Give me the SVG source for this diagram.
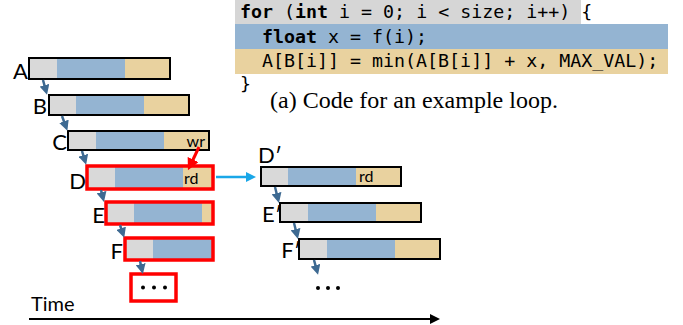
<svg xmlns="http://www.w3.org/2000/svg" width="683" height="325" viewBox="0 0 683 325">
<style>
.g{fill:#d9d9d9}.b{fill:#94b4d2}.t{fill:#e9d29f}
.ol{fill:none;stroke:#000;stroke-width:2}
.rb{fill:none;stroke:#ff0000;stroke-width:3.5}
.lbl{font-family:Lato,"Open Sans",sans-serif;font-size:22px;fill:#000}
.sm{font-family:Lato,"Open Sans",sans-serif;font-size:16px;fill:#000}
.code{font-family:"DejaVu Sans Mono","Liberation Mono",monospace;font-size:18.3px;fill:#000}
.cap{font-family:"Liberation Serif","Times New Roman",serif;font-size:24px;fill:#000}
.kw{font-weight:bold}
.dep{stroke:#3e6a92;stroke-width:2.5;fill:none;marker-end:url(#ah)}
</style>
<defs>
<marker id="ah" viewBox="0 0 10 10" refX="6" refY="5" markerWidth="4" markerHeight="4" orient="auto"><path d="M0,0 L10,5 L0,10 z" fill="#3e6a92"/></marker>
<marker id="ahr" viewBox="0 0 10 10" refX="6" refY="5" markerWidth="4" markerHeight="4" orient="auto"><path d="M0,0 L10,5 L0,10 z" fill="#ff0000"/></marker>
<marker id="ahc" viewBox="0 0 10 10" refX="6" refY="5" markerWidth="4" markerHeight="4" orient="auto"><path d="M0,0 L10,5 L0,10 z" fill="#1aa7e8"/></marker>
<marker id="ahk" viewBox="0 0 10 10" refX="8" refY="5" markerWidth="6" markerHeight="5" orient="auto"><path d="M0,0 L10,5 L0,10 z" fill="#000"/></marker>
</defs>

<g id="code">
<rect x="235" y="0" width="346" height="24" fill="#d6d6d6"/>
<rect x="235" y="24" width="433" height="25" class="b"/>
<rect x="235" y="49" width="433" height="25" class="t"/>
<text class="code" x="240" y="18" xml:space="preserve"><tspan class="kw">for</tspan> (<tspan class="kw">int</tspan> i = 0; i &lt; size; i++) {</text>
<text class="code" x="240" y="43" xml:space="preserve">  <tspan class="kw">float</tspan> x = f(i);</text>
<text class="code" x="240" y="67" xml:space="preserve">  A[B[i]] = min(A[B[i]] + x, MAX_VAL);</text>
<text class="code" x="240" y="90">}</text>
<text class="cap" x="270" y="108">(a) Code for an example loop.</text>
</g>

<g id="A">
<rect x="29" y="58" width="28" height="21" class="g"/><rect x="57" y="58" width="68" height="21" class="b"/><rect x="125" y="58" width="45" height="21" class="t"/>
<rect x="29" y="58" width="141" height="21" class="ol"/>
<text class="lbl" x="28" y="79" text-anchor="end">A</text>
</g>
<g id="B">
<rect x="49" y="95" width="27" height="20" class="g"/><rect x="76" y="95" width="68" height="20" class="b"/><rect x="144" y="95" width="45" height="20" class="t"/>
<rect x="49" y="95" width="140" height="20" class="ol"/>
<text class="lbl" x="47" y="114" text-anchor="end">B</text>
</g>
<g id="C">
<rect x="68" y="131" width="28" height="19" class="g"/><rect x="96" y="131" width="68" height="19" class="b"/><rect x="164" y="131" width="45" height="19" class="t"/>
<rect x="68" y="131" width="141" height="19" class="ol"/>
<text class="sm" x="205" y="147" text-anchor="end">wr</text>
<text class="lbl" x="67" y="150" text-anchor="end">C</text>
</g>
<g id="D">
<rect x="88" y="167" width="27" height="21" class="g"/><rect x="115" y="167" width="68" height="21" class="b"/><rect x="183" y="167" width="29" height="21" class="t"/>
<rect x="87" y="166" width="126" height="23" class="rb"/>
<text class="sm" x="184" y="184">rd</text>
<text class="lbl" x="86" y="189" text-anchor="end">D</text>
</g>
<g id="E">
<rect x="107" y="203" width="27" height="20" class="g"/><rect x="134" y="203" width="68" height="20" class="b"/><rect x="202" y="203" width="10" height="20" class="t"/>
<rect x="106" y="202" width="107" height="22" class="rb"/>
<text class="lbl" x="105" y="223" text-anchor="end">E</text>
</g>
<g id="F">
<rect x="126" y="239" width="27" height="20" class="g"/><rect x="153" y="239" width="59" height="20" class="b"/>
<rect x="125" y="238" width="88" height="22" class="rb"/>
<text class="lbl" x="123" y="259" text-anchor="end">F</text>
</g>
<g id="more1">
<rect x="131" y="274" width="45" height="27" class="rb" fill="#fff"/>
<circle cx="143" cy="287.5" r="2"/><circle cx="154" cy="287.5" r="2"/><circle cx="165" cy="287.5" r="2"/>
</g>
<g id="Dp">
<rect x="261" y="167" width="27" height="19" class="g"/><rect x="288" y="167" width="68" height="19" class="b"/><rect x="356" y="167" width="45" height="19" class="t"/>
<rect x="261" y="167" width="140" height="19" class="ol"/>
<text class="sm" x="359" y="182">rd</text>
<text class="lbl" x="258" y="163">D′</text>
</g>
<g id="Ep">
<rect x="280" y="203" width="28" height="19" class="g"/><rect x="308" y="203" width="68" height="19" class="b"/><rect x="376" y="203" width="45" height="19" class="t"/>
<rect x="280" y="203" width="141" height="19" class="ol"/>
<text class="lbl" x="282" y="222" text-anchor="end">E′</text>
</g>
<g id="Fp">
<rect x="299" y="239" width="28" height="20" class="g"/><rect x="327" y="239" width="68" height="20" class="b"/><rect x="395" y="239" width="45" height="20" class="t"/>
<rect x="299" y="239" width="141" height="20" class="ol"/>
<text class="lbl" x="301" y="258" text-anchor="end">F′</text>
</g>
<g id="more2">
<circle cx="318" cy="288" r="2"/><circle cx="328" cy="288" r="2"/><circle cx="338" cy="288" r="2"/>
</g>
<g id="time">
<text class="lbl" x="31" y="311" style="font-size:20px">Time</text>
</g>

<g id="connectors">
<line class="dep" x1="43" y1="80" x2="46" y2="91"/>
<line class="dep" x1="62" y1="116" x2="66" y2="127"/>
<line class="dep" x1="82" y1="151" x2="85" y2="161"/>
<line class="dep" x1="101" y1="190" x2="103" y2="198"/>
<line class="dep" x1="120" y1="225" x2="123" y2="234"/>
<line class="dep" x1="140" y1="261" x2="142" y2="270"/>
<line class="dep" x1="275" y1="187" x2="278" y2="199"/>
<line class="dep" x1="294" y1="223" x2="297" y2="235"/>
<line class="dep" x1="314" y1="260" x2="317" y2="271"/>
<line x1="199" y1="147" x2="190" y2="166" stroke="#ff0000" stroke-width="3" marker-end="url(#ahr)"/>
<line x1="216" y1="177" x2="252" y2="177" stroke="#1aa7e8" stroke-width="2.5" marker-end="url(#ahc)"/>
<line x1="29" y1="319" x2="438" y2="319" stroke="#000" stroke-width="2" marker-end="url(#ahk)"/>
</g>
</svg>
